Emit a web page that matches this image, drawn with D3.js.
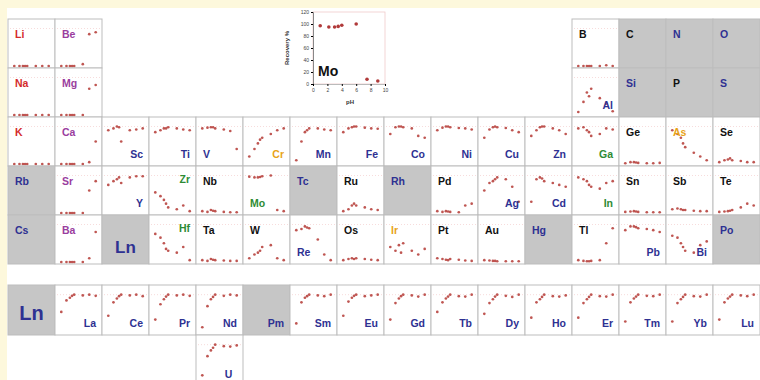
<!DOCTYPE html>
<html>
<head>
<meta charset="utf-8">
<script src="https://cdn.jsdelivr.net/npm/d3@7"></script>
<style>
  body { margin: 0; background: #fdf8dc; }
  svg { display: block; }
</style>
</head>
<body>
<div id="chart"></div>
<script>
// pH values shared by every element's recovery series
const pH = [1, 2.2, 3, 3.5, 4, 6, 7.5, 9];

// periodic table rows (null = empty slot)
const row1 = ['Li', 'Be', null, null, null, null, null, null, null, null, null, null, 'B', 'C', 'N', 'O'];
const row2 = ['Na', 'Mg', null, null, null, null, null, null, null, null, null, null, 'Al', 'Si', 'P', 'S'];
const row3 = ['K', 'Ca', 'Sc', 'Ti', 'V', 'Cr', 'Mn', 'Fe', 'Co', 'Ni', 'Cu', 'Zn', 'Ga', 'Ge', 'As', 'Se'];
const row4 = ['Rb', 'Sr', 'Y', 'Zr', 'Nb', 'Mo', 'Tc', 'Ru', 'Rh', 'Pd', 'Ag', 'Cd', 'In', 'Sn', 'Sb', 'Te'];
const row5 = ['Cs', 'Ba', 'Ln', 'Hf', 'Ta', 'W', 'Re', 'Os', 'Ir', 'Pt', 'Au', 'Hg', 'Tl', 'Pb', 'Bi', 'Po'];
const lnRow = ['Ln', 'La', 'Ce', 'Pr', 'Nd', 'Pm', 'Sm', 'Eu', 'Gd', 'Tb', 'Dy', 'Ho', 'Er', 'Tm', 'Yb', 'Lu'];
const anRow = [null, null, null, null, 'U'];

// recovery % per element, aligned with the rows above (null = not measured)
const rec1 = [
  [0, 0, 0, 0, 0, 0, 0, 0], [0, 0, 0, 0, 0, 5, 85, 90], null, null, null, null, null, null, null, null, null, null,
  [0, 0, 0, 0, 0, 0, 2, 0], null, null, null
];
const rec2 = [
  [0, 0, 0, 0, 0, 0, 0, 0], [0, 0, 0, 0, 0, 0, 70, 80], null, null, null, null, null, null, null, null, null, null,
  [8, 35, 60, 50, 70, 45, 30, 10], null, null, null
];
const rec3 = [
  [0, 0, 0, 0, 0, 0, 0, 0], [0, 0, 0, 0, 0, 0, 5, 60], [90, 95, 100, 98, 60, 90, 92, 95], [85, 90, 95, 95, 98, 95, 92, 90],
  [95, 97, 98, 98, 95, 92, 88, 40], [20, 40, 55, 65, 70, 80, 90, 95], [10, 60, 85, 90, 95, 95, 92, 90], [85, 95, 98, 100, 100, 97, 95, 94],
  [80, 98, 100, 100, 98, 95, 75, 70], [90, 97, 100, 100, 98, 96, 95, 92], [70, 92, 98, 100, 98, 96, 90, 85], [75, 90, 98, 100, 100, 95, 90, 80],
  [95, 98, 90, 85, 75, 80, 95, 92], [2, 5, 5, 4, 3, 2, 2, 3], [90, 80, 70, 55, 45, 30, 20, 10], [5, 10, 12, 15, 10, 8, 5, 5]
];
const rec4 = [
  null, [0, 0, 0, 0, 0, 0, 60, 85], [75, 85, 90, 95, 80, 95, 98, 98], [55, 45, 35, 25, 15, 10, 20, 5],
  [5, 3, 8, 6, 5, 3, 2, 2], [97, 95, 95, 96, 98, 100, 8, 5], null, [5, 10, 20, 25, 20, 15, 10, 8],
  null, [5, 3, 5, 4, 3, 2, 20, 25], [60, 80, 85, 90, 95, 90, 70, 30], [30, 90, 95, 92, 85, 80, 75, 70],
  [95, 90, 85, 75, 70, 65, 80, 85], [3, 4, 5, 4, 3, 2, 2, 2], [10, 12, 10, 8, 8, 6, 5, 5], [3, 4, 5, 6, 8, 15, 25, 20]
];
const rec5 = [
  null, [0, 0, 0, 0, 0, 0, 10, 80], null, [75, 65, 50, 35, 30, 25, 40, 5],
  [5, 3, 8, 6, 5, 4, 3, 3], [10, 20, 25, 30, 40, 45, 10, 5], [85, 88, 95, 92, 90, 60, 20, 5], [5, 8, 10, 8, 10, 8, 6, 5],
  [40, 30, 45, 25, 50, 30, 20, 35], [10, 8, 6, 5, 8, 6, 4, 3], [5, 4, 3, 3, 2, 2, 2, 2], null,
  [5, 3, 2, 2, 3, 5, 50, 90], [85, 95, 95, 93, 90, 88, 85, 80], [70, 65, 50, 40, 30, 25, 45, 55], null
];
const recLn = [
  null, [55, 85, 92, 97, 100, 98, 100, 97], [45, 80, 90, 96, 100, 98, 100, 96], [35, 75, 88, 95, 100, 98, 100, 97],
  [15, 70, 88, 94, 100, 97, 100, 98], null, [25, 80, 92, 96, 100, 98, 96, 100], [45, 82, 92, 97, 100, 96, 98, 100],
  [35, 78, 90, 96, 100, 98, 95, 100], [55, 80, 90, 95, 100, 96, 95, 100], [50, 78, 88, 95, 100, 97, 94, 100], [40, 80, 88, 94, 100, 96, 95, 98],
  [40, 78, 88, 94, 100, 96, 95, 100], [30, 80, 90, 95, 100, 97, 96, 100], [30, 78, 88, 94, 100, 96, 95, 100], [35, 80, 90, 95, 100, 98, 96, 100]
];
const recAn = [null, null, null, null, [20, 70, 85, 92, 100, 96, 95, 98]];

// enlarged example plot (Mo)
const insetRecovery = [97, 95, 95, 96, 98, 100, 8, 5];
const insetXTicks = [0, 2, 4, 6, 8, 10];
const insetYTicks = [0, 20, 40, 60, 80, 100, 120];

// ---- styling ----
const width = 760, height = 380;
const labelColor = {
  red: '#d42b2b', purple: '#9a3d9e', blue: '#2e3192', green: '#2e8b34', orange: '#e8a317', black: '#111'
};
const colorGroups = {
  red: ['Li', 'Na', 'K'],
  purple: ['Be', 'Mg', 'Ca', 'Sr', 'Ba'],
  green: ['Ga', 'Zr', 'Mo', 'In', 'Hf'],
  orange: ['Cr', 'As', 'Ir'],
  black: ['B', 'C', 'P', 'Ge', 'Se', 'Nb', 'Ru', 'Pd', 'Sn', 'Sb', 'Te', 'Ta', 'W', 'Os', 'Pt', 'Au', 'Tl']
};
function colorOf(sym) {
  for (const k in colorGroups) if (colorGroups[k].includes(sym)) return labelColor[k];
  return labelColor.blue;
}
const placeBR = ['Al', 'Sc', 'Ti', 'Cr', 'Mn', 'Fe', 'Co', 'Ni', 'Cu', 'Zn', 'Ga', 'Y', 'Ag', 'Cd', 'In', 'Pb', 'Bi'];
const placeBL = ['V', 'Mo', 'Re'];
const placeTR = ['Zr', 'Hf'];

const svg = d3.select('#chart').append('svg')
  .attr('width', width)
  .attr('height', height);

svg.append('rect').attr('x', 7).attr('y', 8).attr('width', width - 7).attr('height', height - 8).attr('fill', '#fff');

// grid scales
const colX = d3.scaleLinear().domain([0, 16]).range([8, 760]);
const rowY = d3.scaleLinear().domain([0, 5]).range([19, 264]);
const cellW = colX(1) - colX(0);
const cellH = rowY(1) - rowY(0);

const cells = [];
function addRow(symbols, recs, top, h, lnRowFlag) {
  symbols.forEach((s, i) => {
    if (!s) return;
    cells.push({ sym: s, rec: recs[i], x: colX(i), y: top, w: cellW, h: h, big: s === 'Ln', lnRow: lnRowFlag });
  });
}
addRow(row1, rec1, rowY(0), cellH);
addRow(row2, rec2, rowY(1), cellH);
addRow(row3, rec3, rowY(2), cellH);
addRow(row4, rec4, rowY(3), cellH);
addRow(row5, rec5, rowY(4), cellH);
addRow(lnRow, recLn, 285, 50, true);
addRow(anRow, recAn, 335, 50, true);

const g = svg.append('g');

const cell = g.selectAll('g.cell')
  .data(cells)
  .join('g')
  .attr('class', 'cell');

cell.append('rect')
  .attr('x', d => d.x)
  .attr('y', d => d.y)
  .attr('width', d => d.w)
  .attr('height', d => d.h)
  .attr('fill', d => d.rec ? '#fff' : '#c6c6c6')
  .attr('stroke', '#bdbdbd')
  .attr('stroke-width', 1);

// mini scatter plots
cell.filter(d => d.rec).each(function (d) {
  const x = d3.scaleLinear().domain([0, 10]).range([d.x + 2, d.x + d.w - 2]);
  const y = d3.scaleLinear().domain([0, 120]).range([d.y + d.h - 2, d.y + 2]);
  d3.select(this).append('line')
    .attr('x1', x(0)).attr('x2', x(10))
    .attr('y1', y(100)).attr('y2', y(100))
    .attr('stroke', '#f2c4c4')
    .attr('stroke-width', 0.6)
    .attr('stroke-dasharray', '1,2');
  d3.select(this).selectAll('circle')
    .data(d.rec.map((v, i) => [pH[i], v]))
    .join('circle')
    .attr('cx', p => x(p[0]))
    .attr('cy', p => y(p[1]))
    .attr('r', 1.35)
    .attr('fill', '#b8443f')
    .attr('opacity', 0.9);
});

// element labels
cell.append('text')
  .attr('x', d => {
    if (d.big) return d.x + d.w / 2;
    if (d.sym === 'U') return d.x + d.w / 2 + 9;
    if (d.lnRow || placeBR.includes(d.sym) || placeTR.includes(d.sym)) return d.x + d.w - 6;
    return d.x + 7;
  })
  .attr('y', d => {
    if (d.big) return d.lnRow ? d.y + 35 : d.y + 38;
    if (d.sym === 'U') return d.y + 43;
    if (d.lnRow || placeBR.includes(d.sym) || placeBL.includes(d.sym)) return d.y + d.h - 8;
    return d.y + (placeTR.includes(d.sym) ? 17 : 19);
  })
  .attr('text-anchor', d => {
    if (d.big || d.sym === 'U') return 'middle';
    if (d.lnRow || placeBR.includes(d.sym) || placeTR.includes(d.sym)) return 'end';
    return 'start';
  })
  .style('font-family', 'Liberation Sans, Arial, sans-serif')
  .style('font-weight', 'bold')
  .style('font-size', d => d.big ? (d.lnRow ? '20px' : '17px') : '10.5px')
  .style('fill', d => colorOf(d.sym))
  .text(d => d.sym);

// ---- enlarged Mo example ----
const ix = d3.scaleLinear().domain([0, 10]).range([313, 385]);
const iy = d3.scaleLinear().domain([0, 120]).range([84, 12]);
const inset = svg.append('g');

inset.append('rect')
  .attr('x', ix(0)).attr('y', iy(120))
  .attr('width', ix(10) - ix(0)).attr('height', iy(0) - iy(120))
  .attr('fill', '#fff')
  .attr('stroke', '#f0caca')
  .attr('stroke-width', 0.8);

inset.append('g')
  .attr('transform', `translate(${ix(0)},0)`)
  .call(d3.axisLeft(iy).tickValues(insetYTicks).tickSize(2).tickPadding(2))
  .call(a => a.select('.domain').attr('stroke', '#888'))
  .call(a => a.selectAll('text').style('font-size', '5px').style('fill', '#444'));

inset.append('g')
  .attr('transform', `translate(0,${iy(0)})`)
  .call(d3.axisBottom(ix).tickValues(insetXTicks).tickSize(2).tickPadding(2))
  .call(a => a.select('.domain').attr('stroke', '#bbb'))
  .call(a => a.selectAll('text').style('font-size', '5px').style('fill', '#444'));

inset.append('text')
  .attr('transform', `translate(289,${iy(60)}) rotate(-90)`)
  .attr('text-anchor', 'middle')
  .style('font-family', 'Liberation Sans, Arial, sans-serif')
  .style('font-weight', 'bold')
  .style('font-size', '6px')
  .style('fill', '#333')
  .text('Recovery %');

inset.append('text')
  .attr('x', 350).attr('y', 104)
  .attr('text-anchor', 'middle')
  .style('font-family', 'Liberation Sans, Arial, sans-serif')
  .style('font-weight', 'bold')
  .style('font-size', '6px')
  .style('fill', '#333')
  .text('pH');

inset.append('text')
  .attr('x', 318).attr('y', 76)
  .style('font-family', 'Liberation Sans, Arial, sans-serif')
  .style('font-weight', 'bold')
  .style('font-size', '14px')
  .style('fill', '#111')
  .text('Mo');

inset.selectAll('circle')
  .data(insetRecovery.map((v, i) => [pH[i], v]))
  .join('circle')
  .attr('cx', p => ix(p[0]))
  .attr('cy', p => iy(p[1]))
  .attr('r', 1.8)
  .attr('fill', '#b03a3a');
</script>
</body>
</html>
